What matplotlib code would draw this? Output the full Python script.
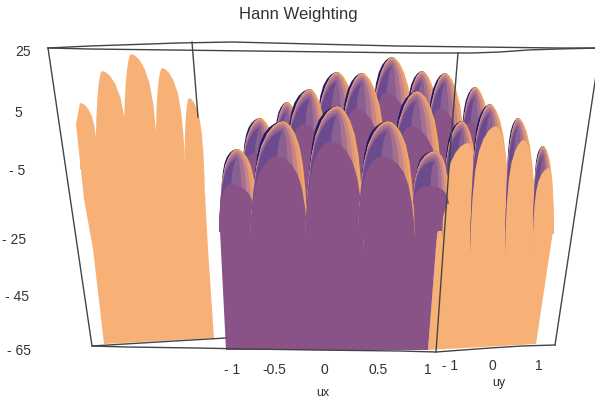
import numpy as np
import matplotlib
matplotlib.use('Agg')
import matplotlib.pyplot as plt

plt.rcParams['font.family'] = ['Liberation Sans', 'DejaVu Sans']

title = 'Hann Weighting'
z_labels = ['25', '5', '- 5', '- 25', '- 45', '- 65']
z_label_x = [23, 18, 17, 14, 17, 19]
z_label_y = [52, 113, 171, 240, 297, 351]
ux_labels = ['- 1', '-0.5', '0', '0.5', '1']
ux_label_x = [232, 274, 324, 378, 428]
uy_labels = ['- 1', '0', '1']
uy_label_x = [450, 492, 539]

# lobe shape: half width fraction against drop from tip (0 tip, 1 at lobe foot)
profile_drop = [0, 0.01, 0.04, 0.1, 0.2, 0.35, 0.55, 0.8, 1.0]
profile_width = [0, 0.14, 0.3, 0.48, 0.66, 0.8, 0.9, 0.97, 1.0]

# shadow on the left wall
wall_tip_x = [80, 102, 131, 162, 189]
wall_tip_y = [104, 72, 55, 69, 99]
wall_left = [0, 7, 8, 7, 5]
wall_right = [18, 28, 28, 24, 16]
wall_foot = [170, 205, 200, 195, 200]
wall_base_x = [80, 76, 84, 93, 104, 214, 208, 205, 97, 97]
wall_base_y = [104, 125, 200, 250, 345, 339, 250, 195, 190, 170]

# back rows, back to front
back_x = [392, 337, 422, 475, 287, 362, 445, 310, 417, 260]
back_y = [58, 73, 72, 88, 103, 74, 74, 90, 92, 119]
back_l = [23, 24, 19, 16, 15, 25, 21, 27, 27, 20]
back_r = [25, 24, 21, 19, 18, 27, 23, 20, 27, 19]
back_foot = [210, 210, 210, 220, 210, 240, 235, 225, 240, 215]

# right column, the side seen in orange
side_x = [462, 490, 518, 543]
side_y = [122, 105, 119, 147]
side_l = [20, 20, 13, 10]
side_r = [17, 20, 18, 11]
side_foot = [240, 255, 255, 235]

# front row
front_x = [237, 283, 337, 388, 435]
front_y = [150, 122, 107, 122, 152]
front_l = [18, 33, 32, 30, 22]
front_r = [21, 25, 27, 27, 14]
front_foot = [233, 248, 250, 240, 205]

# bands over a lobe, outside in: colour, how far the tip sinks, right side fraction
band_colors = ['#f0a860', '#e09a78', '#c58589', '#a87090', '#8a5f92', '#6b4a8e']
band_sink = [0, 1, 2, 4, 7, 10]
band_right = [1.0, 0.88, 0.72, 0.52, 0.25, -0.35]
purple_dome_sink = 35
orange_dome_sink = 22
navy = '#1c1a70'
purple = '#8a5387'
orange = '#f7b176'
line_color = '#444444'

purple_block_x = [220, 226, 428, 437, 448, 413, 402]
purple_block_y = [232, 351, 351, 235, 203, 203, 233]
orange_block_x = [437, 428, 536, 553]
orange_block_y = [232, 351, 345, 232]

frame_lines = [
    ([48, 90, 120, 178, 232, 313, 397, 477, 558, 600], [49, 47, 46, 44, 43, 45, 47, 48, 49, 49]),
    ([48, 90, 172, 253, 335, 417, 472, 500, 528, 558, 600], [49, 50, 51, 52, 53, 54, 54, 53, 51, 50, 49]),
    ([48, 92, 127, 196, 248, 314, 400, 436, 490, 522, 555], [49, 347, 348, 349, 350, 351, 352, 353, 349, 347, 346]),
    ([92, 125, 175, 226], [347, 345, 342, 339]),
    ([192, 198], [43, 118]),
    ([458, 451, 436], [54, 140, 353]),
    ([600, 555], [50, 346]),
]


def lobe_outline(cx, top, foot, left, right):
    drop = np.array(profile_drop)
    wid = np.array(profile_width)
    ys = top + drop * (foot - top)
    xs = np.r_[cx - wid * left, (cx + wid * right)[::-1]]
    return xs, np.r_[ys, ys[::-1]]


def draw_lobe(ax, cx, top, foot, l, r, body, shift, sink, z):
    # dark rim on the upper left only
    xs, ys = lobe_outline(cx, top, top + 0.5 * (foot - top), l * 0.87, r * 0.6)
    ax.fill(xs, ys, color=navy, lw=0, zorder=z)
    for k in range(len(band_colors)):
        xs, ys = lobe_outline(cx, top + band_sink[k], foot, l, r * band_right[k])
        ax.fill(xs, ys, color=band_colors[k], lw=0, zorder=z)
    # smooth lower part of the lobe
    xs, ys = lobe_outline(cx + shift, top + sink, foot, l + shift, r - shift)
    ax.fill(xs, ys, color=body, lw=0, zorder=z)


fig = plt.figure(figsize=(5.95, 4.02), dpi=100)
ax = fig.add_axes([0, 0, 1, 1])
ax.set_xlim(0, 595)
ax.set_ylim(402, 0)
ax.axis('off')

ax.fill(wall_base_x, wall_base_y, color=orange, lw=0, zorder=1)
for i in range(len(wall_tip_x)):
    xs, ys = lobe_outline(wall_tip_x[i], wall_tip_y[i], wall_foot[i], wall_left[i], wall_right[i])
    ax.fill(xs, ys, color=orange, lw=0, zorder=1)

z = 2
for i in range(len(back_x)):
    draw_lobe(ax, back_x[i], back_y[i], back_foot[i], back_l[i], back_r[i], purple, -6, purple_dome_sink, z)
    z += 1
ax.fill(orange_block_x, orange_block_y, color=orange, lw=0, zorder=z)
z += 1
for i in range(len(side_x)):
    draw_lobe(ax, side_x[i], side_y[i], side_foot[i], side_l[i], side_r[i], orange, 6, orange_dome_sink, z)
    z += 1
ax.fill(purple_block_x, purple_block_y, color=purple, lw=0, zorder=z)
z += 1
for i in range(len(front_x)):
    draw_lobe(ax, front_x[i], front_y[i], front_foot[i], front_l[i], front_r[i], purple, -6, purple_dome_sink, z)
    z += 1

for lx, ly in frame_lines:
    ax.plot(lx, ly, color=line_color, lw=1, zorder=z)

ax.text(298, 15, title, ha='center', va='center', fontsize=12, color='#333333')
for s, x, y in zip(z_labels, z_label_x, z_label_y):
    ax.text(x, y, s, ha='center', va='center', fontsize=10, color='#333333')
for s, x in zip(ux_labels, ux_label_x):
    ax.text(x, 370, s, ha='center', va='center', fontsize=10, color='#333333')
for s, x in zip(uy_labels, uy_label_x):
    ax.text(x, 366, s, ha='center', va='center', fontsize=10, color='#333333')
ax.text(323, 393, 'ux', ha='center', va='center', fontsize=9, color='#333333')
ax.text(499, 383, 'uy', ha='center', va='center', fontsize=9, color='#333333')

fig.savefig('out.png', dpi=100)
